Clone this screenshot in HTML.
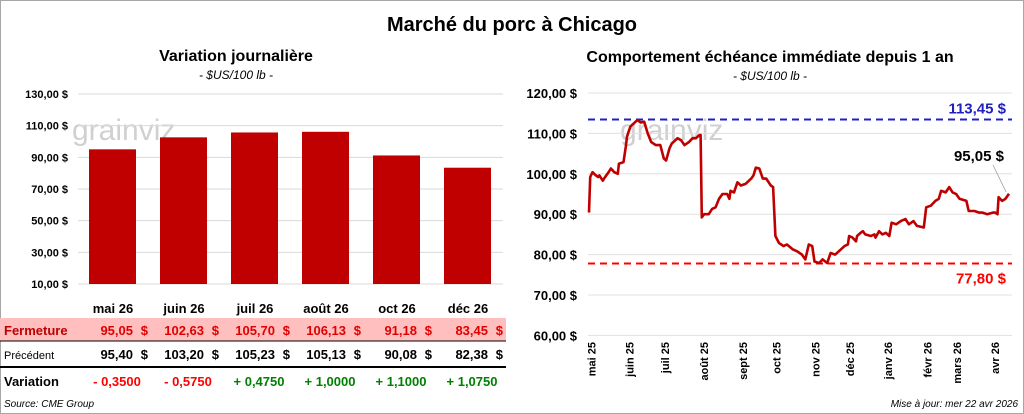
<!DOCTYPE html>
<html><head><meta charset="utf-8"><style>
body{margin:0;width:1024px;height:414px;overflow:hidden;background:#fff;font-family:"Liberation Sans",sans-serif}
svg{display:block}
</style></head><body>
<svg id="s" width="1024" height="414" font-family="Liberation Sans, sans-serif">
<rect x="0.5" y="0.5" width="1023" height="413" fill="#fff" stroke="#a6a6a6"/>
<text x="512" y="31" text-anchor="middle" font-size="20" font-weight="bold">Marché du porc à Chicago</text>
<text x="236" y="61" text-anchor="middle" font-size="16" font-weight="bold">Variation journalière</text>
<text x="236" y="79" text-anchor="middle" font-size="12" font-style="italic">- $US/100 lb -</text>
<text x="770" y="62" text-anchor="middle" font-size="16" font-weight="bold">Comportement  échéance immédiate depuis 1 an</text>
<text x="770" y="80" text-anchor="middle" font-size="12" font-style="italic">- $US/100 lb -</text>
<text x="72" y="140" font-size="30" fill="#d0d0d0">grainviz</text>
<text x="620" y="140" font-size="30" fill="#d0d0d0">grainviz</text>
<g id="left"></g><g id="right"></g>
<rect x="0" y="318" width="506" height="23" fill="#ffbfbf"/>
<line x1="0" y1="341" x2="506" y2="341" stroke="#000" stroke-width="1"/>
<line x1="0" y1="367" x2="506" y2="367" stroke="#000" stroke-width="2"/>
<g id="table" font-size="13" font-weight="bold"></g>
<text x="4" y="407" font-size="10" font-style="italic">Source: CME Group</text>
<text x="1018" y="407" text-anchor="end" font-size="10" font-style="italic">Mise à jour: mer 22 avr 2026</text>
</svg>
<script>
const NS="http://www.w3.org/2000/svg";
function mk(p,t,a,txt){const e=document.createElementNS(NS,t);for(const k in a)e.setAttribute(k,a[k]);if(txt!=null)e.textContent=txt;p.appendChild(e);return e;}
// left chart data
const months=["mai 26","juin 26","juil 26","août 26","oct 26","déc 26"];
const closes=[95.05,102.63,105.70,106.13,91.18,83.45];
const prevs=[95.40,103.20,105.23,105.13,90.08,82.38];
const variations=[-0.35,-0.575,0.475,1.0,1.1,1.075];
const leftTicks=[10,30,50,70,90,110,130];
// right chart data
const days=[0,1,3,6,8,9,12,14,17,19,22,25,26,30,32,33,36,39,42,45,48,51,54,58,62,65,67,70,72,77,80,83,87,90,93,96,97,98,100,104,107,110,113,116,120,122,123,126,129,132,136,141,143,145,148,151,154,158,160,162,165,169,172,177,181,185,188,191,194,196,200,203,207,210,214,219,222,225,226,229,232,233,236,238,240,245,248,249,252,255,258,261,263,267,271,275,278,282,285,291,293,297,301,304,306,310,313,316,319,322,328,330,335,339,342,346,351,353,355,356,359,362,365];
const prices=[90.4,99.2,100.4,99.6,99.2,99.6,98.3,99.2,100.4,101.3,100.4,100,102.5,102.9,106.7,109.2,111.7,112.5,113.3,112.7,112.9,110,107.9,107.1,107.1,103.8,103.3,106.3,107.5,108.8,108.3,107.1,107.9,108.8,108.8,109.6,109.6,89.2,90,90,91.3,91.7,93.8,95,95,93.8,95.8,95.4,97.9,97.1,97.5,98.8,99.6,101.5,101.3,98.8,98.8,97.1,96.7,84.6,82.9,82.1,82.5,81.3,80.8,80,78.8,82.5,82.1,78.3,77.9,78.8,77.9,80.4,80,81.3,82.1,82.5,84.6,84.2,83.3,84.6,85.4,85.8,85,84.6,85,84.2,85.8,85,85.4,84.6,87.9,87.5,88.3,88.8,87.5,88.3,87.1,86.7,91.7,92.1,93.3,93.8,95.8,95.4,96.7,95.4,95,93.8,93.3,90.8,90.8,90.4,90.4,90,90.4,90.4,90,94.2,93.3,93.8,95.05];
const rightTicks=[60,70,80,90,100,110,120];
const monthLabels=["mai 25","juin 25","juil 25","août 25","sept 25","oct 25","nov 25","déc 25","janv 26","févr 26","mars 26","avr 26"];
const monthDays=[2,35,66,100,134,163,197,227,260,294,320,353];
const hi=113.45, lo=77.80, last=95.05;
const fmt=v=>v.toFixed(2).replace('.',',');
// left
const L=document.getElementById('left');
const ly=v=>284-(v-10)*(190/120);
const lx=i=>113+i*71;
leftTicks.forEach(t=>{
 const g=mk(L,'line',{x1:78,x2:503,y1:ly(t),y2:ly(t),stroke:'#d9d9d9'});
 
 
 const tx=mk(L,'text',{x:68,y:ly(t)+4,'text-anchor':'end','font-size':11,'font-weight':'bold'},fmt(t)+' $');
 
 
});
closes.forEach((v,i)=>{
 const r=mk(L,'rect',{x:lx(i)-24,y:ly(v),width:47,height:ly(10)-ly(v),fill:'#c00000'});
 
 
});
// table
const T=document.getElementById('table');
function cell(x,y,txt,fill,anchor,name,extra){const e=mk(T,'text',Object.assign({x:x,y:y,fill:fill,'text-anchor':anchor},extra||{}),txt);return e;}
cell(4,335,'Fermeture','#c00000','start','row-label-fermeture');
cell(4,359,'Précédent','#000','start','row-label-precedent',{'font-weight':'normal','font-size':11});
cell(4,386,'Variation','#000','start','row-label-variation');
months.forEach((m,i)=>{
 cell(lx(i),313,m,'#000','middle','month-header');
 cell(lx(i)+20,335,fmt(closes[i]),'#e00000','end','close-value');
 cell(lx(i)+35,335,'$','#e00000','end','close-currency');
 cell(lx(i)+20,359,fmt(prevs[i]),'#000','end','prev-value');
 cell(lx(i)+35,359,'$','#000','end','prev-currency');
 const d=variations[i];
 cell(lx(i)+4,386,(d<0?'- ':'+ ')+Math.abs(d).toFixed(4).replace('.',','),d<0?'#ff0000':'#008000','middle','variation-value');
});
// right
const R=document.getElementById('right');
const rx=d=>589+d*(420/365);
const ry=v=>93+(120-v)*4.04;
rightTicks.forEach(t=>{
 const g=mk(R,'line',{x1:588,x2:1012,y1:ry(t),y2:ry(t),stroke:'#e0e0e0'});
 
 
 const tx=mk(R,'text',{x:577,y:ry(t)+5,'text-anchor':'end','font-size':13,'font-weight':'bold'},fmt(t)+' $');
 
 
});
monthLabels.forEach((m,i)=>{
 const x=rx(monthDays[i])+4,y=342;
 const tx=mk(R,'text',{x:x,y:y,'text-anchor':'end','font-size':11,'font-weight':'bold',transform:`rotate(-90 ${x} ${y})`},m);
 
 
});
const hl=mk(R,'line',{x1:588,x2:1012,y1:ry(hi),y2:ry(hi),stroke:'#2020c0','stroke-width':2,'stroke-dasharray':'7,5'});


const ll=mk(R,'line',{x1:588,x2:1012,y1:ry(lo),y2:ry(lo),stroke:'#ff0000','stroke-width':2,'stroke-dasharray':'7,5'});


const path=mk(R,'path',{d:days.map((d,i)=>(i?'L':'M')+rx(d).toFixed(1)+','+ry(prices[i]).toFixed(1)).join(''),fill:'none',stroke:'#c00000','stroke-width':2.6,'stroke-linejoin':'round'});


const hlab=mk(R,'text',{x:1006,y:ry(hi)-6,'text-anchor':'end','font-size':15,'font-weight':'bold',fill:'#2020c0'},fmt(hi)+' $');


const llab=mk(R,'text',{x:1006,y:ry(lo)+20,'text-anchor':'end','font-size':15,'font-weight':'bold',fill:'#ff0000'},fmt(lo)+' $');


const lead=mk(R,'line',{x1:993,y1:165,x2:rx(365)-3,y2:ry(last)-2,stroke:'#a0a0a0','stroke-width':0.8});


const lst=mk(R,'text',{x:1004,y:161,'text-anchor':'end','font-size':15,'font-weight':'bold',fill:'#000'},fmt(last)+' $');


</script>
</body></html>
